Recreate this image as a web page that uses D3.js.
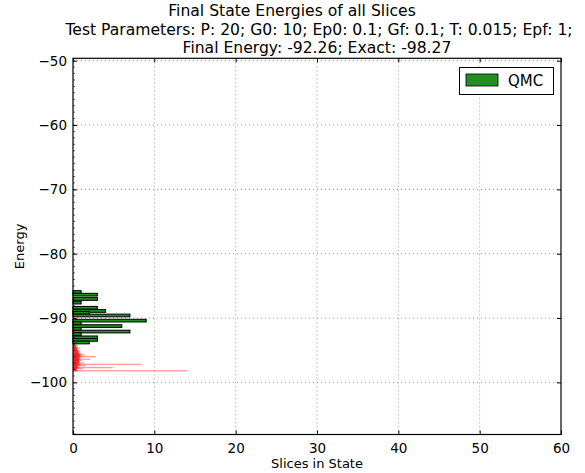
<!DOCTYPE html>
<html><head><meta charset="utf-8">
<script src="https://cdn.jsdelivr.net/npm/d3@7"></script>
<style>body{margin:0;background:#fff}svg{display:block;font-family:"DejaVu Sans",sans-serif}</style>
</head><body><svg id="c" width="585" height="473"></svg>
<script>
const titleLines = ["Final State Energies of all Slices",
  "Test Parameters: P: 20; G0: 10; Ep0: 0.1; Gf: 0.1; T: 0.015; Epf: 1;",
  "Final Energy: -92.26; Exact: -98.27"];
const xTicks = [0,10,20,30,40,50,60];
const yTicks = [-50,-60,-70,-80,-90,-100];
// QMC histogram (green): bin centre energy, count
const qmcEnergy = [-85.95,-86.37,-87.04,-87.45,-87.6,-88.4,-88.9,-89.2,-89.6,-90.4,-90.8,-91.25,-91.7,-92.1,-92.5,-93.0,-93.4,-93.8];
const qmcCount  = [1,3,3,0,1,3,4,2,7,9,1,6,1,7,1,3,3,2];
// other slices (red, translucent): coarse bars
const redEnergy = [-94.3,-94.7,-95.1,-95.5,-95.7,-95.9,-96.0,-96.2,-96.4,-96.6,-96.8,-97.0,-97.2,-97.4,-97.7,-97.9,-98.2];
const redCount  = [0.6,0.8,0.9,1.0,1.5,1.2,2.8,0.9,2.1,1.1,0.9,1.4,8.4,1.6,4.9,1.2,14.1];
// dense low-count slices near the axis
const redFineEnergy = [-93.9,-94.0,-94.1,-94.2,-94.3,-94.4,-94.5,-94.6,-94.7,-94.8,-94.9,-95.0,-95.1,-95.2,-95.3,-95.4,-95.5,-95.6,-95.7,-95.8,-95.9,-96.0,-96.1,-96.2,-96.3,-96.4,-96.5,-96.6,-96.7,-96.8,-96.9,-97.0,-97.1,-97.2,-97.3,-97.4,-97.5,-97.6,-97.7,-97.8,-97.9,-98.0,-98.1,-98.2];
const redFineCount  = [0.2,0.2,0.3,0.3,0.3,0.4,0.4,0.5,0.4,0.5,0.6,0.5,0.6,0.7,0.6,0.7,0.8,0.6,0.9,0.7,0.8,0.9,0.6,0.8,0.7,0.9,0.6,0.8,0.7,0.6,0.8,0.7,0.6,0.9,0.5,0.7,0.6,0.5,0.7,0.5,0.4,0.5,0.4,0.5];

const svg = d3.select("#c");
const L=73, R=561, T=58.3, B=434.5;
const x = d3.scaleLinear().domain([0,60]).range([L,R]);
const y = d3.scaleLinear().domain([-108.1,-49.63]).range([B,T]);

// grid
const g = svg.append("g");
g.selectAll(".gx").data(xTicks.slice(1,-1)).join("line")
  .attr("x1",d=>x(d)).attr("x2",d=>x(d)).attr("y1",T).attr("y2",B)
  .attr("stroke","#999").attr("stroke-width",1).attr("stroke-dasharray","1,3");
g.selectAll(".gy").data(yTicks).join("line")
  .attr("y1",d=>y(d)).attr("y2",d=>y(d)).attr("x1",L).attr("x2",R)
  .attr("stroke","#999").attr("stroke-width",1).attr("stroke-dasharray","1,3");

// red bars
function redBars(E, C, bh, op){
  svg.append("g").selectAll("rect").data(E.map((e,i)=>({e,c:C[i]}))).join("rect")
    .attr("x",x(0)).attr("y",d=>y(d.e+bh/2)).attr("width",d=>x(d.c)-x(0))
    .attr("height",d=>y(d.e-bh/2)-y(d.e+bh/2))
    .attr("fill","red").attr("fill-opacity",op);
}
redBars(redFineEnergy, redFineCount, 0.2, 0.6);
redBars(redEnergy, redCount, 0.2, 0.4);
// green bars
const gw = 0.42;
svg.append("g").selectAll("rect").data(qmcEnergy.map((e,i)=>({e,c:qmcCount[i]})).filter(d=>d.c>0)).join("rect")
  .attr("x",x(0)).attr("y",d=>y(d.e+gw/2)).attr("width",d=>x(d.c)-x(0))
  .attr("height",d=>y(d.e-gw/2)-y(d.e+gw/2))
  .attr("fill","#218f21").attr("stroke","#000").attr("stroke-width",1);

// axes (ticks inward)
const fmt = d3.format("");
svg.append("g").attr("transform",`translate(0,${B})`)
  .call(d3.axisBottom(x).tickValues(xTicks).tickSizeInner(-4).tickSizeOuter(0).tickPadding(9).tickFormat(fmt))
  .call(a=>a.select(".domain").remove())
  .selectAll("text").attr("font-size",13.5).attr("fill","#000").attr("font-family","DejaVu Sans");
svg.append("g").attr("transform",`translate(0,${T})`)
  .call(d3.axisTop(x).tickValues(xTicks).tickSizeInner(-4).tickSizeOuter(0).tickFormat(""))
  .call(a=>a.select(".domain").remove());
svg.append("g").attr("transform",`translate(${L},0)`)
  .call(d3.axisLeft(y).tickValues(yTicks).tickSizeInner(-4).tickSizeOuter(0).tickPadding(6).tickFormat(d3.format("")))
  .call(a=>a.select(".domain").remove())
  .selectAll("text").attr("font-size",13.5).attr("fill","#000").attr("font-family","DejaVu Sans");
svg.append("g").attr("transform",`translate(${R},0)`)
  .call(d3.axisRight(y).tickValues(yTicks).tickSizeInner(-4).tickSizeOuter(0).tickFormat(""))
  .call(a=>a.select(".domain").remove());
// minor ticks on left
svg.append("g").selectAll("line").data(d3.range(-108,-49,1)).join("line")
  .attr("x1",L).attr("x2",L+2).attr("y1",d=>y(d)).attr("y2",d=>y(d)).attr("stroke","#000").attr("stroke-width",0.6);

svg.append("rect").attr("x",L).attr("y",T).attr("width",R-L).attr("height",B-T)
  .attr("fill","none").attr("stroke","#000").attr("stroke-width",1.2);

// titles
const tx=[292,319,317];
titleLines.forEach((t,i)=>svg.append("text").attr("x",tx[i]).attr("y",16+i*18.5)
  .attr("text-anchor","middle").attr("font-size",15.6).text(t));
svg.append("text").attr("x",(L+R)/2).attr("y",468).attr("text-anchor","middle").attr("font-size",13).text("Slices in State");
svg.append("text").attr("transform",`translate(24,${(T+B)/2}) rotate(-90)`).attr("text-anchor","middle").attr("font-size",13).text("Energy");

// legend
const lg = svg.append("g");
lg.append("rect").attr("x",459.5).attr("y",67.5).attr("width",94).attr("height",27).attr("fill","#fff").attr("stroke","#000").attr("stroke-width",1);
lg.append("rect").attr("x",466).attr("y",74).attr("width",32).attr("height",12).attr("fill","#218f21").attr("stroke","#000").attr("stroke-width",0.8);
lg.append("text").attr("x",508).attr("y",86).attr("font-size",15).text("QMC");
</script></body></html>
